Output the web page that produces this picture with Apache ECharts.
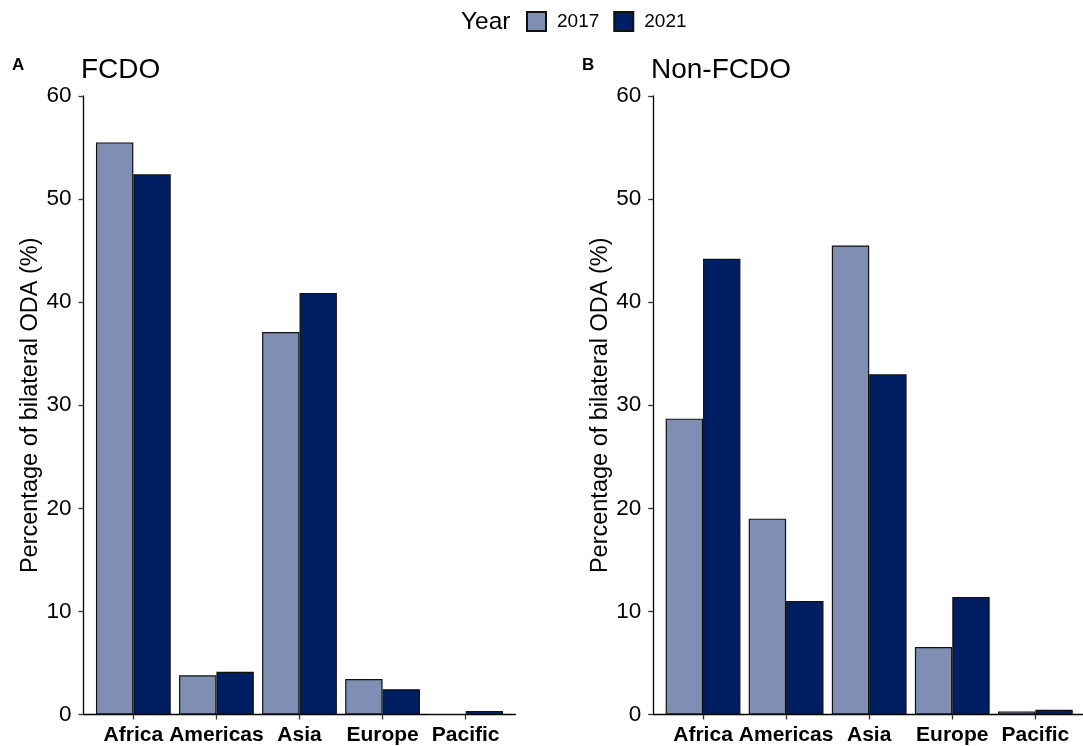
<!DOCTYPE html>
<html>
<head>
<meta charset="utf-8">
<script src="https://cdn.jsdelivr.net/npm/echarts@6/dist/echarts.min.js"></script>
<style>
html,body{margin:0;padding:0;background:#fff;}
#chart{width:1083px;height:746px;}
</style>
</head>
<body>
<div id="chart"></div>
<script>
var categories = ['Africa', 'Americas', 'Asia', 'Europe', 'Pacific'];
var years = ['2017', '2021'];
var fcdo2017 = [55.5, 3.8, 37.1, 3.45, 0];
var fcdo2021 = [52.4, 4.15, 40.9, 2.45, 0.35];
var nonFcdo2017 = [28.7, 19.0, 45.5, 6.55, 0.3];
var nonFcdo2021 = [44.2, 11.0, 33.0, 11.4, 0.45];
var yMin = 0, yMax = 60, yInterval = 10;
var panelTitles = ['FCDO', 'Non-FCDO'];
var panelTags = ['A', 'B'];
var yName = 'Percentage of bilateral ODA (%)';

var FONT = "'Liberation Sans', Arial, sans-serif";
var colors = ['#7f8fb3', '#001f63'];
var TOP = 96, HEIGHT = 618.5;
var wideLeft = [83.5, 653.2], wideWidth = 432;
var band = wideWidth / 5.2;

var grids = [], xAxes = [], yAxes = [], series = [];
[0, 1].forEach(function (p) {
  grids.push({left: wideLeft[p], top: TOP, width: wideWidth, height: HEIGHT});
  grids.push({left: wideLeft[p] + 0.1 * band, top: TOP, width: 5 * band, height: HEIGHT});
  var gw = p * 2, gn = p * 2 + 1;
  xAxes.push({
    gridIndex: gw, type: 'value', min: 0, max: 1,
    axisLine: {show: true, lineStyle: {color: '#000', width: 1.3}},
    axisTick: {show: false}, axisLabel: {show: false}, splitLine: {show: false}
  });
  xAxes.push({
    gridIndex: gn, type: 'category', data: categories,
    axisLine: {show: false},
    axisTick: {show: true, alignWithLabel: true, length: 5, lineStyle: {color: '#333', width: 1.3}},
    axisLabel: {fontFamily: FONT, fontSize: 21, fontWeight: 'bold', color: '#000', margin: 10, interval: 0},
    splitLine: {show: false}
  });
  yAxes.push({
    gridIndex: gw, type: 'value', min: yMin, max: yMax, interval: yInterval,
    name: yName, nameLocation: 'middle', nameGap: 40, nameRotate: 90,
    nameTextStyle: {fontFamily: FONT, fontSize: 23.5, color: '#000'},
    axisLine: {show: true, lineStyle: {color: '#000', width: 1.3}},
    axisTick: {show: true, length: 5, lineStyle: {color: '#333', width: 1.3}},
    axisLabel: {fontFamily: FONT, fontSize: 22.5, color: '#000', margin: 12},
    splitLine: {show: false}
  });
  yAxes.push({
    gridIndex: gn, type: 'value', min: yMin, max: yMax, interval: yInterval,
    show: false, splitLine: {show: false}
  });
  var d = p === 0 ? [fcdo2017, fcdo2021] : [nonFcdo2017, nonFcdo2021];
  [0, 1].forEach(function (s) {
    series.push({
      type: 'bar', name: years[s], xAxisIndex: gn, yAxisIndex: gn,
      data: d[s], barGap: '0%', barCategoryGap: '10%',
      itemStyle: {color: colors[s], borderColor: '#111', borderWidth: 1.2},
      emphasis: {disabled: true}, animation: false
    });
  });
});

var titles = [
  {text: panelTitles[0], left: 81, top: 56, padding: 0, textStyle: {fontFamily: FONT, fontSize: 28, fontWeight: 'normal', color: '#000'}},
  {text: panelTitles[1], left: 651, top: 56, padding: 0, textStyle: {fontFamily: FONT, fontSize: 28, fontWeight: 'normal', color: '#000'}},
  {text: panelTags[0], left: 12, top: 57, padding: 0, textStyle: {fontFamily: FONT, fontSize: 17, fontWeight: 'bold', color: '#000'}},
  {text: panelTags[1], left: 582, top: 57, padding: 0, textStyle: {fontFamily: FONT, fontSize: 17, fontWeight: 'bold', color: '#000'}},
  {text: 'Year', left: 461, top: 10, padding: 0, textStyle: {fontFamily: FONT, fontSize: 24.5, fontWeight: 'normal', color: '#000'}}
];

var chart = echarts.init(document.getElementById('chart'), null, {renderer: 'canvas'});
chart.setOption({
  animation: false,
  backgroundColor: '#fff',
  title: titles,
  legend: {
    data: years, left: 526, top: 11, padding: 0, itemWidth: 19, itemHeight: 19, itemGap: 14,
    icon: 'rect',
    textStyle: {fontFamily: FONT, fontSize: 19, color: '#000', padding: [0, 0, 0, 6]}
  },
  grid: grids,
  xAxis: xAxes,
  yAxis: yAxes,
  series: series
});
</script>
</body>
</html>
